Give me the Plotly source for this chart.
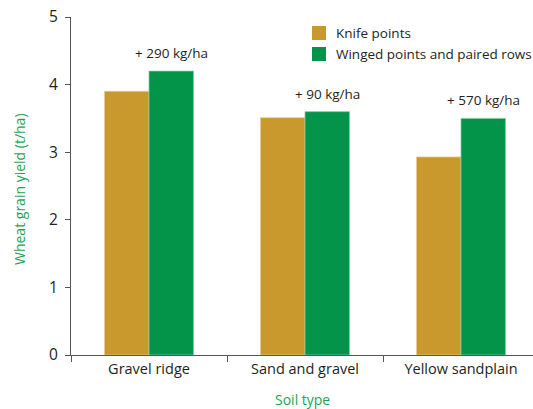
import plotly.graph_objects as go

categories = ["Gravel ridge", "Sand and gravel", "Yellow sandplain"]
knife = [3.9, 3.51, 2.93]
winged = [4.2, 3.6, 3.5]
diff_labels = ["+ 290 kg/ha", "+ 90 kg/ha", "+ 570 kg/ha"]
y_ticks = [0, 1, 2, 3, 4, 5]
series_names = ["Knife points", "Winged points and paired rows"]

gold = "#C9992E"
green = "#03944A"
title_green = "#1DA556"
text_col = "#231F20"
font = "Open Sans"

W, H = 533, 409
L, R, T, B = 71, 0, 17, 54
pw, ph = W - L - R, H - T - B

def px(x):
    return (x - L) / pw

def py(y):
    return (H - B - y) / ph

bargap = 0.43
fig = go.Figure()
fig.add_trace(go.Bar(x=categories, y=knife, name=series_names[0],
                     marker=dict(color=gold, line=dict(color="#E2C98F", width=0.8))))
fig.add_trace(go.Bar(x=categories, y=winged, name=series_names[1],
                     marker=dict(color=green, line=dict(color="#7FCCA0", width=0.8))))

bw = (1 - bargap) / 2
for i, lab in enumerate(diff_labels):
    top = max(knife[i], winged[i])
    fig.add_annotation(x=i + bw / 2, y=top, text=lab, showarrow=False, yshift=18,
                       yanchor="middle", font=dict(family=font, size=13.5, color=text_col))

# legend drawn manually
leg_items = [(series_names[0], gold, 33), (series_names[1], green, 54)]
for name, col, yc in leg_items:
    fig.add_shape(type="rect", xref="paper", yref="paper",
                  x0=px(312), x1=px(326), y0=py(yc + 7), y1=py(yc - 7),
                  fillcolor=col, line=dict(width=0))
    fig.add_annotation(xref="paper", yref="paper", x=px(334), y=py(yc), text=name,
                       showarrow=False, xanchor="left", yanchor="middle",
                       font=dict(family=font, size=13.5, color=text_col))

# axis titles
fig.add_annotation(xref="paper", yref="paper", x=px(20), y=py(189), text="Wheat grain yield (t/ha)",
                   textangle=-90, showarrow=False, xanchor="center", yanchor="middle",
                   font=dict(family=font, size=14, color=title_green))
fig.add_annotation(xref="paper", yref="paper", x=px(302), y=py(399), text="Soil type",
                   showarrow=False, xanchor="center", yanchor="middle",
                   font=dict(family=font, size=14, color=title_green))

fig.update_layout(
    width=W, height=H,
    margin=dict(l=L, r=R, t=T, b=B, autoexpand=False),
    plot_bgcolor="white", paper_bgcolor="white",
    barmode="group", bargap=bargap, bargroupgap=0,
    font=dict(family=font, size=14, color=text_col),
    showlegend=False,
    xaxis=dict(range=[-0.5, 2.5 - 6 / 156], showline=True, linecolor="#555555", linewidth=1.2,
               ticks="outside", tickson="boundaries", ticklen=6, tickcolor="#555555",
               automargin=False, tickfont=dict(size=14.5)),
    yaxis=dict(range=[0, 5], tickvals=y_ticks, showline=True, linecolor="#555555", linewidth=1.2,
               ticks="outside", ticklen=5, tickcolor="#555555", showgrid=False, zeroline=False,
               ticklabelstandoff=4,
               automargin=False, tickfont=dict(size=15.5)),
)
fig.write_html("out.html", config={"displayModeBar": False},
               post_script="document.body.style.margin='0';document.body.style.padding='0';")
